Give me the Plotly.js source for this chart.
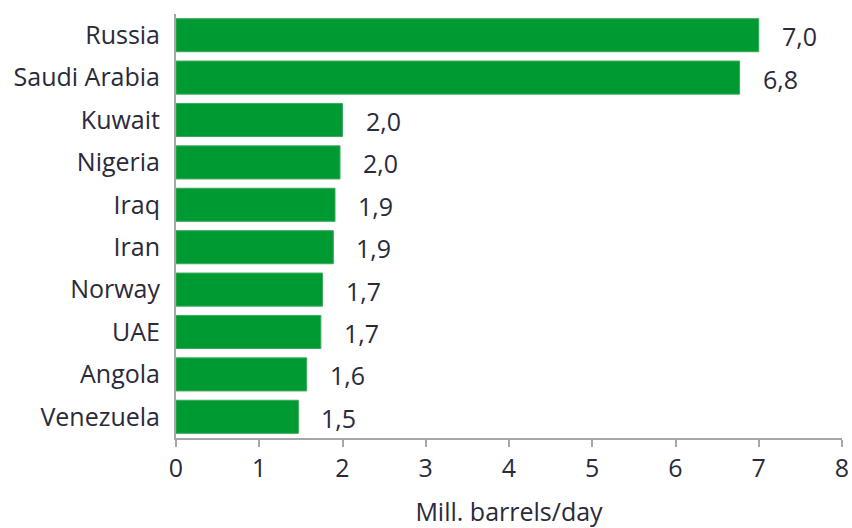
<!DOCTYPE html>
<html>
<head>
<meta charset="utf-8">
<script src="https://cdn.plot.ly/plotly-3.0.1.min.js"></script>
<style>html,body{margin:0;padding:0;background:#fff;}#chart{width:852px;height:528px;}</style>
</head>
<body>
<div id="chart"></div>
<script>
var countries = ["Russia","Saudi Arabia","Kuwait","Nigeria","Iraq","Iran","Norway","UAE","Angola","Venezuela"];
var values = [7.0, 6.77, 2.0, 1.97, 1.91, 1.89, 1.76, 1.74, 1.57, 1.47];
var valueLabels = ["7,0","6,8","2,0","2,0","1,9","1,9","1,7","1,7","1,6","1,5"];
var xTicks = [0,1,2,3,4,5,6,7,8];

var font = "'Open Sans', 'DejaVu Sans', sans-serif";
var textColor = "#2a2a3a";
var fs = 25;

var trace = {
  type: "bar",
  orientation: "h",
  y: countries,
  x: values,
  marker: {color: "#009a32", line: {color: "#3aab5a", width: 1}},
  hoverinfo: "skip"
};

var annotations = countries.map(function(c, i){
  return {x: values[i], y: c, xref: "x", yref: "y", text: valueLabels[i],
          showarrow: false, xanchor: "left", xshift: 21, yshift: -1,
          font: {family: font, size: fs, color: textColor}};
});

var layout = {
  width: 852, height: 528,
  margin: {l: 176, r: 10, t: 14, b: 90},
  paper_bgcolor: "#fff", plot_bgcolor: "#fff",
  bargap: 0.22,
  showlegend: false,
  font: {family: font, size: fs, color: textColor},
  xaxis: {
    range: [0, 8], tickvals: xTicks, ticktext: xTicks.map(String),
    showgrid: false, zeroline: false, showline: true, linecolor: "#a6a6a6", linewidth: 2,
    ticks: "outside", ticklen: 7, tickwidth: 2, tickcolor: "#a6a6a6",
    tickfont: {family: font, size: fs, color: textColor},
    title: {text: "Mill. barrels/day", font: {family: font, size: fs, color: textColor}, standoff: 22},
    automargin: false,
    fixedrange: true
  },
  yaxis: {
    autorange: "reversed", type: "category",
    showgrid: false, zeroline: false, showline: true, linecolor: "#a6a6a6", linewidth: 2,
    ticks: "", ticklabelstandoff: 9,
    tickfont: {family: font, size: fs, color: textColor},
    automargin: false,
    fixedrange: true
  },
  annotations: annotations
};

Plotly.newPlot("chart", [trace], layout, {displayModeBar: false, staticPlot: true});
</script>
</body>
</html>
